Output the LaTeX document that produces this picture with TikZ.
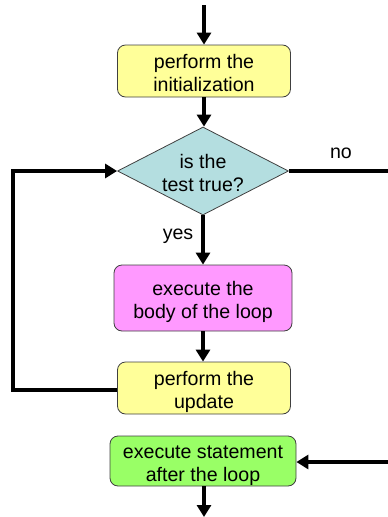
\documentclass[tikz,border=0pt]{standalone}
\usepackage{fontspec}
\setmainfont{Liberation Sans}
\usetikzlibrary{shapes.geometric,arrows.meta}
\definecolor{boxyellow}{HTML}{FFFF99}
\definecolor{boxpink}{HTML}{FF99FF}
\definecolor{boxgreen}{HTML}{99FF66}
\definecolor{diafill}{HTML}{B4DEE0}
\definecolor{edgegray}{HTML}{404040}
\begin{document}
\begin{tikzpicture}[x=1pt,y=-1pt,
  every node/.style={font=\fontsize{19.6}{22.5}\selectfont, text=black},
  procbox/.style={draw=edgegray, line width=0.8pt, rounded corners=8pt, align=center, inner sep=0pt, text height=43pt, text depth=3pt},
  decision/.style={draw=edgegray, line width=0.8pt, diamond, aspect=1.94, fill=diafill, align=center, inner sep=0pt, text height=40.5pt, text depth=0pt, minimum width=171pt, minimum height=88pt},
  flow/.style={line width=4pt, -{Triangle[length=12pt,width=14pt]}},
  plainline/.style={line width=4pt}]
\useasboundingbox (0,0) rectangle (388,517);

\coordinate (start) at (204,5);
\node[procbox, fill=boxyellow, minimum width=173pt, minimum height=52pt] (init) at (204,71) {perform the\\initialization};
\node[decision] (dia) at (203,171) {is the\\test true?};
\node[procbox, fill=boxpink, minimum width=178pt, minimum height=66pt] (body) at (203,298) {execute the\\body of the loop};
\node[procbox, fill=boxyellow, minimum width=173pt, minimum height=52pt] (upd) at (204,388) {perform the\\update};
\node[procbox, fill=boxgreen, minimum width=186pt, minimum height=50pt] (after) at (203,461) {execute statement\\after the loop};

\coordinate (noend) at (388,171);
\coordinate (leftx) at (13,390);
\coordinate (inend) at (388,462);
\coordinate (stop) at (204,517);

\node (nolab) at (341,153) {no};
\node (yeslab) at (178,236) {yes};

\draw[flow] (start) -- (init.north);
\draw[flow] (init.south) -- (init.south |- dia.north);
\draw[plainline] (dia.east) -- (noend);
\draw[flow] (dia.south) -- (dia.south |- body.north);
\draw[flow] (body.south -| dia.south) -- (dia.south |- upd.north);
\draw[flow, line join=miter] (upd.west |- leftx) -- (leftx) |- (dia.west);
\draw[flow] (inend) -- (after.east |- inend);
\draw[flow] (after.south -| start) -- (stop);
\end{tikzpicture}
\end{document}
